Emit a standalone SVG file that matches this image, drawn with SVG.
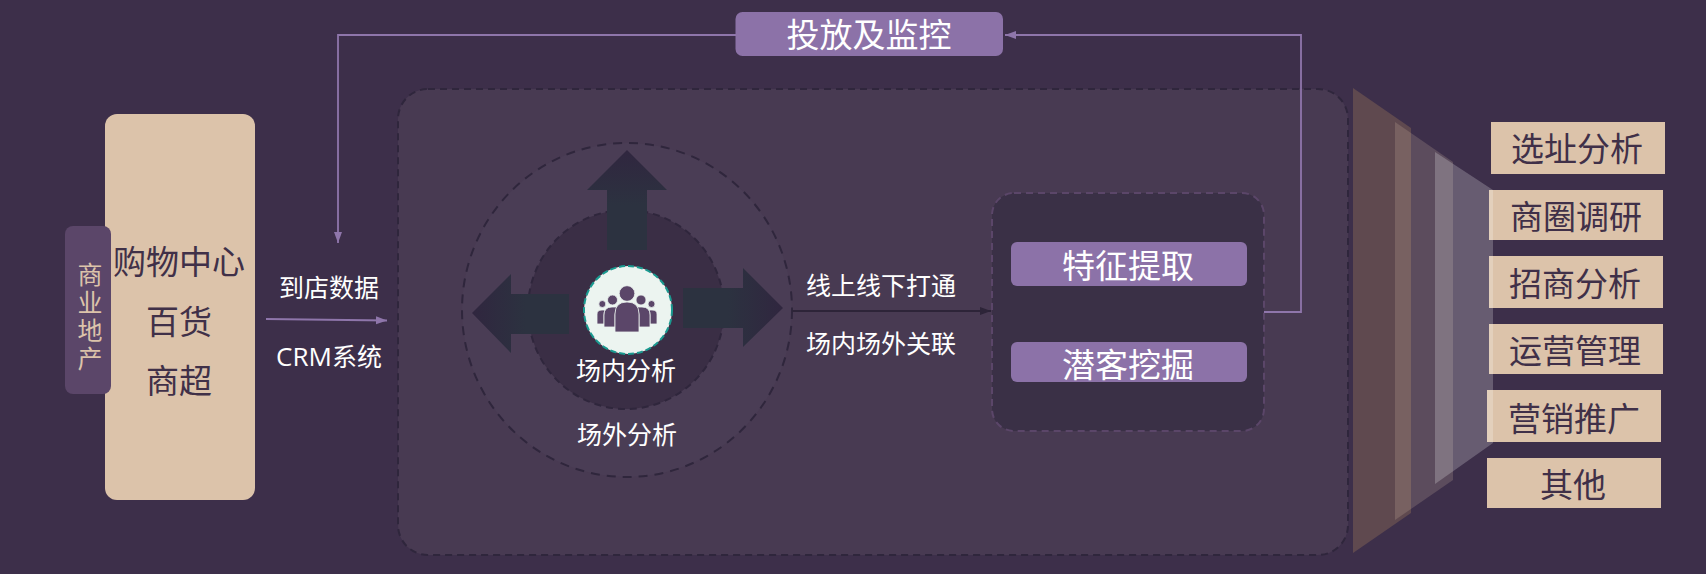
<svg xmlns="http://www.w3.org/2000/svg" width="1706" height="574" viewBox="0 0 1706 574">
<style>
text{font-family:"Noto Sans CJK SC","Noto Sans",sans-serif;text-anchor:middle}
.w24{font-size:25px;fill:#fff}
.w32{font-size:33px;fill:#fff}
.d32{font-size:33px;fill:#403048}
.tan{fill:#dcc3aa}
.pur{fill:#8c72a8}
.lp{fill:none;stroke:#8f76ab;stroke-width:1.8}
.ppl{fill:#5b4669;stroke:#ecf4f0;stroke-width:.8}
</style>
<defs>
<marker id="ah" markerWidth="12" markerHeight="10" refX="11" refY="4" orient="auto" markerUnits="userSpaceOnUse"><path d="M0 0L11 4L0 8Z" fill="#8f76ab"/></marker>
<marker id="ahd" markerWidth="12" markerHeight="10" refX="11" refY="4" orient="auto" markerUnits="userSpaceOnUse"><path d="M0 0L11 4L0 8Z" fill="#2d2438"/></marker>
<linearGradient id="gU" x1="0" y1="0" x2="0" y2="1"><stop offset="0" stop-color="#30263f"/><stop offset=".55" stop-color="#2c3240"/><stop offset="1" stop-color="#2c3240"/></linearGradient>
<linearGradient id="gL" x1="0" y1="0" x2="1" y2="0"><stop offset="0" stop-color="#30263f"/><stop offset=".55" stop-color="#2c3240"/><stop offset="1" stop-color="#2c3240"/></linearGradient>
<linearGradient id="gR" x1="1" y1="0" x2="0" y2="0"><stop offset="0" stop-color="#30263f"/><stop offset=".55" stop-color="#2c3240"/><stop offset="1" stop-color="#2c3240"/></linearGradient>
</defs>
<rect width="1706" height="574" fill="#3d2f4a"/>
<g id="panel"><rect x="398" y="89" width="950" height="466" rx="30" fill="#483a52" stroke="#2f263c" stroke-width="2" stroke-dasharray="7 5"/></g>
<g id="mall">
<rect class="tan" x="105" y="114" width="150" height="386" rx="12"/>
<text class="d32" x="179" y="274">购物中心</text>
<text class="d32" x="179" y="334">百货</text>
<text class="d32" x="179" y="393">商超</text>
</g>
<g id="commercial">
<rect x="65" y="226" width="46" height="168" rx="8" fill="#5b4669"/>
<text font-size="25" fill="#dcc3aa" x="90" y="318" letter-spacing="3" style="writing-mode:vertical-rl">商业地产</text>
</g>
<g id="outer-circle">
<ellipse cx="627" cy="310" rx="165" ry="167" fill="#4a3d55" stroke="#2f263c" stroke-width="2" stroke-dasharray="9 7"/>
<text class="w24" x="627" y="444">场外分析</text>
</g>
<g id="inner-circle">
<ellipse cx="626" cy="309.500" rx="98" ry="99.500" fill="#3a2e45" stroke="#2f263c" stroke-width="2" stroke-dasharray="7 5"/>
</g>
<g id="arrows">
<path d="M627 150L667 190H647V250H607V190H587Z" fill="url(#gU)"/>
<path d="M472 313L511 274V294H569V334H511V353Z" fill="url(#gL)"/>
<path d="M783 308L743 268V288H683V328H743V347Z" fill="url(#gR)"/>
</g>
<g id="center">
<circle cx="628" cy="310" r="44" fill="#ecf4f0" stroke="#1a9a90" stroke-width="2" stroke-dasharray="6 3"/>
<circle class="ppl" cx="602.300" cy="304" r="3.500"/>
<circle class="ppl" cx="651.500" cy="304" r="3.500"/>
<path class="ppl" d="M597 324V314Q597 310 602 310L605 310Q604 312 604 315V324Z"/>
<path class="ppl" d="M657 324V314Q657 310 652 310L649 310Q650 312 650 315V324Z"/>
<circle class="ppl" cx="612.500" cy="300" r="5"/>
<circle class="ppl" cx="641" cy="300" r="5"/>
<path class="ppl" d="M604 327V315Q604 307 612 307L618 307Q615 310 615 315V327Z"/>
<path class="ppl" d="M650 327V315Q650 307 642 307L636 307Q639 310 639 315V327Z"/>
<circle class="ppl" cx="627" cy="293.500" r="7.800"/>
<path class="ppl" d="M615 332V314Q615 302 627 302Q639 302 639 314V332Z"/>
<text class="w24" x="626" y="380">场内分析</text>
</g>
<g id="features">
<rect x="992" y="193" width="272" height="238" rx="22" fill="#3a3046" stroke="#5b4669" stroke-width="2" stroke-dasharray="7 5"/>
<rect class="pur" x="1011" y="242" width="236" height="44" rx="6"/>
<text class="w32" x="1128" y="278">特征提取</text>
<rect class="pur" x="1011" y="342" width="236" height="40" rx="6"/>
<text class="w32" x="1128" y="377">潜客挖掘</text>
</g>
<g id="monitor">
<rect class="pur" x="735.500" y="12" width="267.500" height="44" rx="7"/>
<text class="w32" x="869" y="47">投放及监控</text>
</g>
<g id="connectors">
<path class="lp" d="M736 35H338V243" marker-end="url(#ah)"/>
<path class="lp" d="M1264 312H1301V35H1005" marker-end="url(#ah)"/>
<path class="lp" d="M266 319L387 320.500" marker-end="url(#ah)"/>
<path d="M792 311H991" fill="none" stroke="#2d2438" stroke-width="1.800" marker-end="url(#ahd)"/>
</g>
<g id="labels">
<text class="w24" x="329" y="297">到店数据</text>
<text class="w24" x="329" y="366"><tspan style="font-family:'Open Sans',sans-serif;font-size:26px">CRM</tspan>系统</text>
<text class="w24" x="881" y="295">线上线下打通</text>
<text class="w24" x="881" y="353">场内场外关联</text>
</g>
<g id="uses">
<rect class="tan" x="1491" y="122" width="174" height="52"/>
<text class="d32" x="1577" y="161">选址分析</text>
<rect class="tan" x="1489" y="190" width="174" height="50"/>
<text class="d32" x="1576" y="229">商圈调研</text>
<rect class="tan" x="1489" y="256" width="174" height="52"/>
<text class="d32" x="1575" y="296">招商分析</text>
<rect class="tan" x="1489" y="324" width="174" height="50"/>
<text class="d32" x="1575" y="363">运营管理</text>
<rect class="tan" x="1487" y="390" width="174" height="52"/>
<text class="d32" x="1574" y="431">营销推广</text>
<rect class="tan" x="1487" y="458" width="174" height="50"/>
<text class="d32" x="1573" y="497">其他</text>
</g>
<g id="funnel">
<polygon points="1353,88 1411,128 1411,513 1353,553" fill="#5f494f"/>
<polygon points="1395,122 1453,162 1453,480 1395,520" fill="#dcc3aa" fill-opacity=".2"/>
<polygon points="1435,152 1493,190 1493,443 1435,484" fill="#ffffff" fill-opacity=".22"/>
</g>
</svg>
